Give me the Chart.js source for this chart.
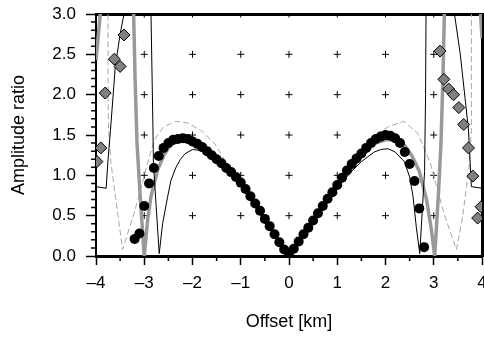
<!DOCTYPE html>
<html>
<head>
<meta charset="utf-8">
<script src="https://cdn.jsdelivr.net/npm/chart.js@4.4.1/dist/chart.umd.min.js"></script>
<style>
  html, body { margin: 0; padding: 0; background: #fff; }
  #wrap { width: 484px; height: 337px; }
</style>
</head>
<body>
<div id="wrap"><canvas id="chart" width="484" height="337"></canvas></div>
<script>
// observed amplitude ratios (black circles)
const obsX = [-3.2, -3.1, -3.0, -2.9, -2.8, -2.7, -2.6, -2.5, -2.4, -2.3, -2.2, -2.1, -2.0, -1.9, -1.8, -1.7, -1.6, -1.5, -1.4, -1.3, -1.2, -1.1, -1.0, -0.9, -0.8, -0.7, -0.6, -0.5, -0.4, -0.3, -0.2, -0.1, 0.0,
  0.1, 0.2, 0.3, 0.4, 0.5, 0.6, 0.7, 0.8, 0.9, 1.0, 1.1, 1.2, 1.3, 1.4, 1.5, 1.6, 1.7, 1.8, 1.9, 2.0, 2.1, 2.2, 2.3, 2.4, 2.5, 2.6, 2.7, 2.8];
const obsY = [0.21, 0.28, 0.62, 0.90, 1.09, 1.24, 1.34, 1.40, 1.44, 1.45, 1.46, 1.45, 1.42, 1.39, 1.35, 1.30, 1.25, 1.20, 1.15, 1.09, 1.04, 0.98, 0.91, 0.83, 0.74, 0.65, 0.56, 0.46, 0.37, 0.27, 0.17, 0.08, 0.03,
  0.09, 0.18, 0.27, 0.35, 0.44, 0.53, 0.62, 0.71, 0.79, 0.88, 0.97, 1.06, 1.14, 1.21, 1.27, 1.34, 1.40, 1.45, 1.48, 1.50, 1.49, 1.46, 1.40, 1.29, 1.14, 0.93, 0.59, 0.11];

// second data set (grey diamonds)
const diaX = [-3.98, -3.90, -3.81, -3.62, -3.50, -3.42, 3.13, 3.21, 3.31, 3.41, 3.52, 3.62, 3.72, 3.81, 3.91, 3.98];
const diaY = [1.17, 1.34, 2.02, 2.44, 2.35, 2.74, 2.54, 2.19, 2.07, 2.00, 1.84, 1.63, 1.34, 0.99, 0.47, 0.61];

// thick grey curve
const grayX = [-4.0, -3.88, -3.5, -3.25, -3.22, -3.19, -3.15, -3.08, -3.0, -2.93, -2.86, -2.72, -2.6, -2.5, -2.4, -2.3, -2.2, -2.1, -2.0, -1.8, -1.5, -1.0, -0.5, 0.0,
  0.5, 1.0, 1.5, 1.8, 2.0, 2.2, 2.4, 2.55, 2.7, 2.85, 2.95, 3.02, 3.1, 3.15, 3.19, 3.22, 3.25, 3.6, 3.96, 4.0];
const grayY = [2.43, 3.2, 4.5, 3.3, 3.0, 2.2, 1.4, 0.7, 0.0, 0.45, 0.74, 1.07, 1.24, 1.34, 1.40, 1.43, 1.43, 1.42, 1.39, 1.32, 1.18, 0.89, 0.45, 0.0,
  0.43, 0.86, 1.24, 1.40, 1.44, 1.44, 1.37, 1.24, 1.05, 0.70, 0.33, 0.0, 0.8, 1.4, 2.2, 3.0, 3.3, 4.5, 3.1, 2.7];

// thin black curve
const blackX = [-4.0, -3.79, -3.75, -3.7, -3.6, -3.5, -3.42, -3.3, -2.95, -2.86, -2.82, -2.81, -2.69, -2.62, -2.52, -2.45, -2.35, -2.25, -2.15, -2.0, -1.85, -1.7, -1.55, -1.3, -1.0, -0.5, 0.0,
  0.5, 1.0, 1.3, 1.5, 1.77, 1.9, 2.05, 2.2, 2.39, 2.5, 2.57, 2.64, 2.71, 2.81, 2.83, 2.84, 2.95, 3.3, 3.43, 3.55, 3.65, 3.72, 3.75, 3.78, 4.0];
const blackY = [0.86, 0.84, 1.2, 1.56, 2.35, 2.75, 3.0, 3.5, 3.5, 3.0, 1.6, 1.15, 0.03, 0.4, 0.72, 0.93, 1.09, 1.20, 1.27, 1.32, 1.31, 1.27, 1.21, 1.07, 0.88, 0.44, 0.0,
  0.43, 0.85, 1.05, 1.17, 1.29, 1.32, 1.33, 1.29, 1.17, 0.98, 0.74, 0.35, 0.03, 1.05, 2.0, 3.0, 3.5, 3.5, 3.0, 2.5, 1.95, 1.56, 1.2, 0.86, 0.84];

// dashed grey curve
const dashX = [-3.8, -3.75, -3.75, -3.74, -3.69, -3.45, -3.21, -2.93, -2.79, -2.6, -2.35, -2.1, -1.83, -1.55, -1.2, -1.0, -0.5, 0.0,
  0.5, 1.0, 1.3, 1.55, 1.8, 2.05, 2.38, 2.67, 2.93, 3.21, 3.47, 3.6, 3.74, 3.78, 3.78, 3.8];
const dashY = [4.0, 3.0, 2.0, 1.56, 1.15, 0.08, 0.53, 1.15, 1.44, 1.60, 1.67, 1.65, 1.56, 1.40, 1.06, 0.91, 0.46, 0.0,
  0.44, 0.87, 1.12, 1.34, 1.50, 1.60, 1.67, 1.52, 1.15, 0.53, 0.08, 0.49, 1.15, 1.56, 3.0, 4.0];

// axes
const xMajor = [-4, -3, -2, -1, 0, 1, 2, 3, 4];
const xMinor = [-3.5, -2.5, -1.5, -0.5, 0.5, 1.5, 2.5, 3.5];
const yMinor = [0.1, 0.2, 0.3, 0.4, 0.6, 0.7, 0.8, 0.9, 1.1, 1.2, 1.3, 1.4, 1.6, 1.7, 1.8, 1.9, 2.1, 2.2, 2.3, 2.4, 2.6, 2.7, 2.8, 2.9];
// "+" marks inside the frame
const crossX = [-3, -2, -1, 0, 1, 2, 3];
const crossY = [0.5, 1.0, 1.5, 2.0, 2.5, 3.0];

const pts = (xs, ys) => xs.map((x, i) => ({ x: x, y: ys[i] }));
const crosses = [];
crossX.forEach(cx => crossY.forEach(cy => crosses.push({ x: cx, y: cy })));

Chart.defaults.font.family = "'Liberation Sans', Arial, sans-serif";
Chart.defaults.color = "#000";

// minor tick marks on the outside of the bottom and left axes
const minorTicks = {
  id: "minorTicks",
  afterDraw(chart) {
    const { ctx, scales: { x, y } } = chart;
    ctx.save();
    ctx.strokeStyle = "#000";
    ctx.lineWidth = 1.5;
    ctx.beginPath();
    xMinor.forEach(v => {
      const px = x.getPixelForValue(v);
      ctx.moveTo(px, x.top);
      ctx.lineTo(px, x.top + 5);
    });
    yMinor.forEach(v => {
      const py = y.getPixelForValue(v);
      ctx.moveTo(y.right, py);
      ctx.lineTo(y.right - 5, py);
    });
    ctx.stroke();
    ctx.restore();
  }
};

// keep the frame fixed: no extra room for overhanging tick labels
const noPad = s => { s.paddingLeft = 0; s.paddingRight = 0; s.paddingTop = 0; s.paddingBottom = 0; };

new Chart(document.getElementById("chart"), {
  type: "scatter",
  data: {
    datasets: [
      {
        data: crosses,
        pointStyle: "cross",
        pointRadius: 3.5,
        borderColor: "#000",
        borderWidth: 1,
        clip: 0,
        order: 6
      },
      {
        data: pts(dashX, dashY),
        showLine: true,
        borderColor: "#a8a8a8",
        borderWidth: 1,
        borderDash: [6, 3],
        pointRadius: 0,
        clip: 0,
        order: 5
      },
      {
        data: pts(grayX, grayY),
        showLine: true,
        borderColor: "#999999",
        borderWidth: 3.5,
        pointRadius: 0,
        order: 4
      },
      {
        data: pts(blackX, blackY),
        showLine: true,
        borderColor: "#000",
        borderWidth: 1,
        pointRadius: 0,
        clip: 0,
        order: 3
      },
      {
        data: pts(obsX, obsY),
        pointStyle: "circle",
        pointRadius: 5,
        backgroundColor: "#000",
        borderColor: "#000",
        borderWidth: 0,
        order: 2
      },
      {
        data: pts(diaX, diaY),
        pointStyle: "rectRot",
        pointRadius: 6,
        backgroundColor: "#808080",
        borderColor: "#000",
        borderWidth: 1,
        clip: 0,
        order: 1
      }
    ]
  },
  options: {
    responsive: false,
    animation: false,
    events: [],
    layout: { padding: 0, autoPadding: false },
    plugins: { legend: { display: false }, tooltip: { enabled: false } },
    scales: {
      x: {
        type: "linear",
        position: "bottom",
        min: -4,
        max: 4,
        z: 1,
        afterBuildTicks: s => { s.ticks = xMajor.map(v => ({ value: v })); },
        afterFit: s => { s.height = 81; noPad(s); },
        ticks: {
          padding: 8,
          maxRotation: 0,
          autoSkip: false,
          font: { size: 17 },
          callback: v => (v < 0 ? "\u2013" + Math.abs(v) : String(v))
        },
        grid: { drawOnChartArea: false, tickLength: 9, tickWidth: 1.5, tickColor: "#000" },
        border: { display: true, color: "#000", width: 3 },
        title: { display: true, text: "Offset [km]", font: { size: 18 }, padding: { top: 0, bottom: 4 } }
      },
      y: {
        type: "linear",
        position: "left",
        min: 0,
        max: 3,
        z: 1,
        afterFit: s => { s.width = 96; noPad(s); },
        ticks: {
          stepSize: 0.5,
          padding: 10,
          font: { size: 17 },
          callback: v => v.toFixed(1)
        },
        grid: { drawOnChartArea: false, tickLength: 10, tickWidth: 1.5, tickColor: "#000" },
        border: { display: true, color: "#000", width: 2 },
        title: { display: true, text: "Amplitude ratio", font: { size: 18 }, padding: { top: 8, bottom: 0 } }
      },
      x2: {
        type: "linear",
        position: "top",
        min: -4,
        max: 4,
        z: 1,
        afterFit: s => { s.height = 14; noPad(s); },
        ticks: { display: false },
        grid: { drawOnChartArea: false, drawTicks: false },
        border: { display: true, color: "#000", width: 3 }
      },
      y2: {
        type: "linear",
        position: "right",
        min: 0,
        max: 3,
        z: 1,
        afterFit: s => { s.width = 2; noPad(s); },
        ticks: { display: false },
        grid: { drawOnChartArea: false, drawTicks: false },
        border: { display: true, color: "#000", width: 3 }
      }
    }
  },
  plugins: [minorTicks]
});
</script>
</body>
</html>
